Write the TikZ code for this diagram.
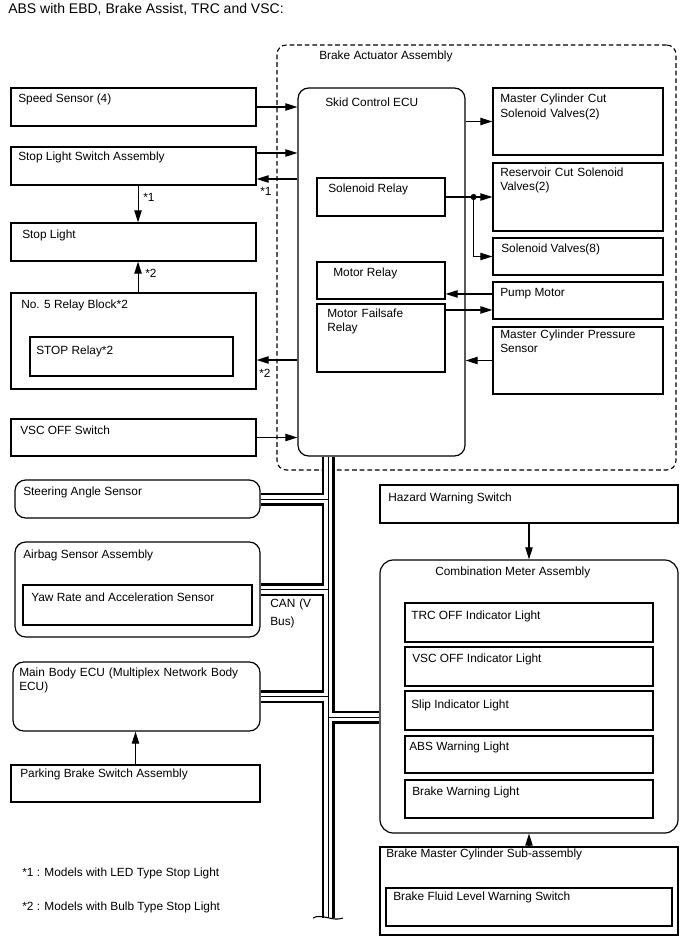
\documentclass[tikz,border=0pt]{standalone}
\usepackage{fontspec}
\setmainfont{Liberation Sans}
\usetikzlibrary{positioning,arrows.meta,fit}

\begin{document}
\begin{tikzpicture}[
    x=0.75pt, y=-0.75pt,
    font=\fontsize{8.9}{10.9}\selectfont,
    box/.style={draw, line width=0.9pt, inner sep=0pt},
    rbox/.style={box, rounded corners=8pt},
    txt/.style={anchor=base west, inner sep=0pt},
    mtxt/.style={txt, text width=6.5cm, align=left},
    arrow/.style={-{Triangle[length=9pt,width=5.5pt]}, line width=0.8pt}
]
    \useasboundingbox (0,0) rectangle (688,949);

    \node[txt, font=\fontsize{10.5}{12}\selectfont] (title) at (8,13.5) {ABS with EBD, Brake Assist, TRC and VSC:};

    % brake actuator
    \node[draw, dash pattern=on 3.5pt off 2.2pt, line width=0.8pt, rounded corners=7pt, inner sep=0pt, fit={(277,45)(676,470)}] (act) {};
    \node[txt] (act-t) at (319,60) {Brake Actuator Assembly};

    \node[rbox, fit={(298,88)(465,456)}] (ecu) {};
    \node[txt] (ecu-t) at (325,106) {Skid Control ECU};
    \node[box, fit={(317,178)(445,216)}] (sol) {};
    \node[txt] (sol-t) at (328,192) {Solenoid Relay};
    \node[box, fit={(317,262)(445,299)}] (mr) {};
    \node[txt] (mr-t) at (333,276) {Motor Relay};
    \node[box, fit={(317,304)(445,372)}] (mf) {};
    \node[mtxt] (mf-t) at (327,317) {Motor Failsafe\\Relay};

    \node[box, fit={(493,88)(663,155)}] (mcc) {};
    \node[mtxt] (mcc-t) at (500,103) {Master Cylinder Cut\\Solenoid Valves(2)};
    \node[box, fit={(493,163)(663,231)}] (rcv) {};
    \node[mtxt] (rcv-t) at (500,176) {Reservoir Cut Solenoid\\Valves(2)};
    \node[box, fit={(493,238)(663,275)}] (sv) {};
    \node[txt] (sv-t) at (501,252) {Solenoid Valves(8)};
    \node[box, fit={(493,282)(663,319)}] (pm) {};
    \node[txt] (pm-t) at (500,296) {Pump Motor};
    \node[box, fit={(493,327)(663,394)}] (mcp) {};
    \node[mtxt] (mcp-t) at (500,338) {Master Cylinder Pressure\\Sensor};

    % left column
    \node[box, fit={(11,88)(256,126)}] (ss) {};
    \node[txt] (ss-t) at (18,102.5) {Speed Sensor (4)};
    \node[box, fit={(11,147)(256,185)}] (sls) {};
    \node[txt] (sls-t) at (18,160) {Stop Light Switch Assembly};
    \node[box, fit={(11,223)(256,261)}] (sl) {};
    \node[txt] (sl-t) at (22,238) {Stop Light};
    \node[box, fit={(11,293)(256,389)}] (rb5) {};
    \node[txt] (rb5-t) at (21,308) {No. 5 Relay Block*2};
    \node[box, fit={(30,337)(233,376)}] (stp) {};
    \node[txt] (stp-t) at (36,354) {STOP Relay*2};
    \node[box, fit={(11,419)(256,456)}] (vsc) {};
    \node[txt] (vsc-t) at (20,434) {VSC OFF Switch};

    \node[rbox, fit={(15,480)(260,518)}] (sas) {};
    \node[txt] (sas-t) at (23,495) {Steering Angle Sensor};
    \node[rbox, fit={(15,542)(260,637)}] (air) {};
    \node[txt] (air-t) at (23,558) {Airbag Sensor Assembly};
    \node[box, fit={(23,585)(252,625)}] (yaw) {};
    \node[txt] (yaw-t) at (31,601) {Yaw Rate and Acceleration Sensor};
    \node[mtxt, font=\fontsize{8.9}{13.5}\selectfont] (can) at (270,607) {CAN (V\\Bus)};
    \node[rbox, fit={(13,662)(260,731)}] (mb) {};
    \node[mtxt] (mb-t) at (19,676) {Main Body ECU (Multiplex Network Body\\ECU)};
    \node[box, fit={(11,765)(260,802)}] (pb) {};
    \node[txt] (pb-t) at (20,777) {Parking Brake Switch Assembly};

    % right lower
    \node[box, fit={(380,485)(678,523)}] (hz) {};
    \node[txt] (hz-t) at (388,501) {Hazard Warning Switch};
    \node[rbox, rounded corners=10pt, fit={(380,560)(678,833)}] (cm) {};
    \node[txt] (cm-t) at (435,575) {Combination Meter Assembly};
    \node[box, fit={(405,603)(653,642)}] (trc) {};
    \node[txt] (trc-t) at (411,619) {TRC OFF Indicator Light};
    \node[box, fit={(405,647)(653,686)}] (vind) {};
    \node[txt] (vind-t) at (412,662) {VSC OFF Indicator Light};
    \node[box, fit={(405,691)(653,730)}] (slp) {};
    \node[txt] (slp-t) at (411,708) {Slip Indicator Light};
    \node[box, fit={(405,736)(653,773)}] (absw) {};
    \node[txt] (absw-t) at (409,750) {ABS Warning Light};
    \node[box, fit={(405,780)(653,818)}] (bwl) {};
    \node[txt] (bwl-t) at (412,795) {Brake Warning Light};
    \node[box, fit={(380,847)(678,935)}] (bmc) {};
    \node[txt] (bmc-t) at (386,857) {Brake Master Cylinder Sub-assembly};
    \node[box, fit={(386,888)(672,926)}] (bfl) {};
    \node[txt] (bfl-t) at (393,900) {Brake Fluid Level Warning Switch};

    % CAN bus
    \coordinate (bus-bot) at (328,918);
    \foreach \w/\c in {9.75pt/black, 6pt/white, 0.6pt/black}
        \draw[line width=\w, \c] ([yshift=-0.45pt]bus-bot |- ecu.south) -- (bus-bot)
            ([xshift=0.45pt]sas.east) -- (sas.east -| bus-bot)
            ([xshift=0.45pt]air.east) -- (air.east -| bus-bot)
            ([xshift=0.45pt]mb.east) -- (mb.east -| bus-bot)
            ([xshift=-0.45pt,yshift=-15.4pt]cm.west) -- ([yshift=-15.4pt]cm.west -| bus-bot);
    \draw[line width=0.8pt] ([xshift=-11.25pt]bus-bot) .. controls +(8,-5) and +(-10,4) .. ([xshift=11.25pt]bus-bot);

    % arrows
    \draw[arrow] (ss.east) -- (ss.east -| ecu.west);
    \draw[arrow] ([yshift=9.75pt]sls.east) -- ([yshift=9.75pt]sls.east -| ecu.west);
    \draw[arrow] ([yshift=-9.75pt]sls.east -| ecu.west) -- ([yshift=-9.75pt]sls.east);
    \draw[arrow] ([xshift=3.4pt]sls.south) -- ([xshift=3.4pt]sls.south |- sl.north);
    \draw[arrow] ([xshift=3.4pt]rb5.north) -- ([xshift=3.4pt]rb5.north |- sl.south);
    \draw[arrow] ([yshift=-14.25pt]rb5.east -| ecu.west) -- ([yshift=-14.25pt]rb5.east);
    \draw[arrow] (vsc.east) -- (vsc.east -| ecu.west);
    \draw[arrow] (mcc.west -| ecu.east) -- (mcc.west);
    \draw[arrow] (sol.east) -- (sol.east -| rcv.west);
    \coordinate (jn) at ([xshift=21pt]sol.east);
    \fill (jn) circle (2.3pt);
    \draw[arrow] (jn) |- (sv.west);
    \draw[arrow] ([yshift=4.9pt]pm.west) -- ([yshift=4.9pt]pm.west -| mr.east);
    \draw[arrow] ([yshift=-7.1pt]pm.west -| mf.east) -- ([yshift=-7.1pt]pm.west);
    \draw[arrow] (mcp.west) -- (mcp.west -| ecu.east);
    \draw[arrow] (hz.south) -- (hz.south |- cm.north);
    \draw[arrow] (bmc.north) -- (bmc.north |- cm.south);
    \draw[arrow] (pb.north) -- (pb.north |- mb.south);

    \node[txt] (n1a) at (260,195) {*1};
    \node[txt] (n1b) at (143,201) {*1};
    \node[txt] (n2a) at (145,277) {*2};
    \node[txt] (n2b) at (259,377) {*2};

    % notes
    \node[txt] (note1) at (22,876) {*1 : Models with LED Type Stop Light};
    \node[txt] (note2) at (22,910) {*2 : Models with Bulb Type Stop Light};
\end{tikzpicture}
\end{document}
